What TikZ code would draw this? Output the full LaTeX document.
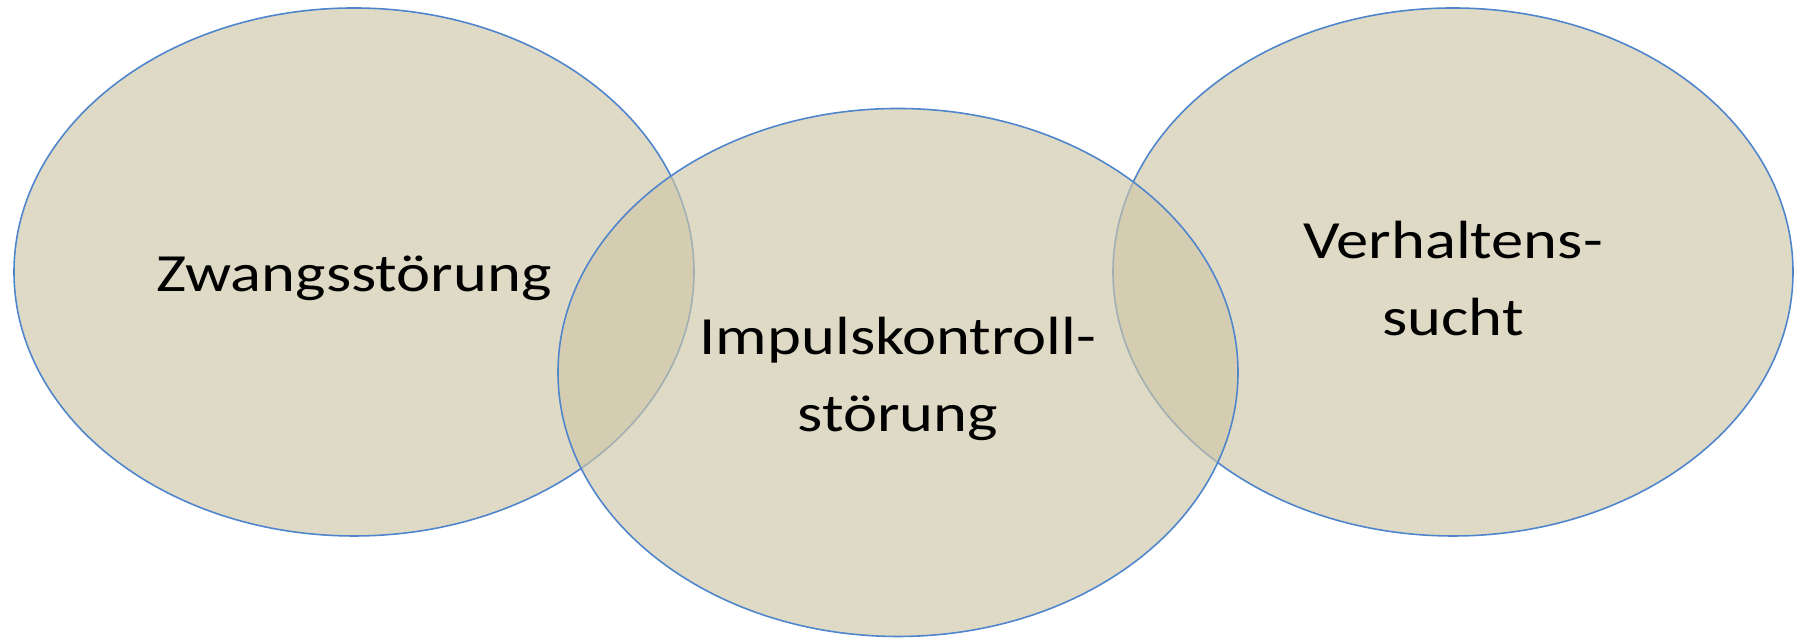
\documentclass[tikz,border=0pt]{standalone}
\usepackage{fontspec}
\setmainfont[FakeStretch=1.2]{Carlito}
\usetikzlibrary{shapes.geometric}
\definecolor{tan}{RGB}{206,198,167}
\definecolor{rimblue}{RGB}{79,133,204}
\tikzset{oval/.style={ % Sets the properties for each circle
ellipse,
draw=rimblue,
line width=0.45pt,
fill=tan,
fill opacity=0.65, % overlaps get darker
minimum width=6.8cm,
minimum height=5.28cm},
word/.style={ % Sets the properties for the labels
font=\fontsize{15.3}{22}\selectfont,
align=center,
yshift=-1.8pt}}

\begin{document}
\begin{tikzpicture}
\useasboundingbox (0,0) rectangle (17.98,6.39);
\node[oval] (zwang) at (3.54,3.67) {};
\node[oval] (sucht) at (14.53,3.67) {};
\node[oval] (impuls) at (8.98,2.665) {};
\node[word] (zwangtext) at (zwang) {Zwangsstörung};
\node[word] (suchttext) at (sucht) {Verhaltens-\\sucht};
\node[word] (impulstext) at (impuls) {Impulskontroll-\\störung};
\end{tikzpicture}
\end{document}
